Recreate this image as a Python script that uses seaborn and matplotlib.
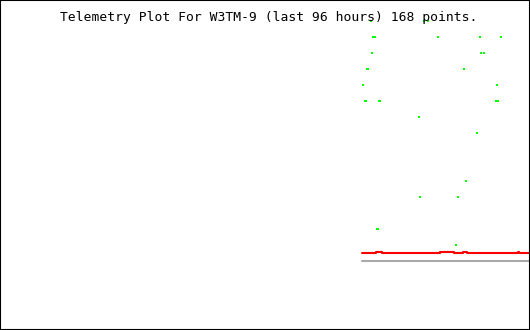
import matplotlib
matplotlib.use("Agg")
import matplotlib.pyplot as plt
import seaborn as sns
import pandas as pd
from matplotlib.patches import Rectangle

# ---- data (sample index 0..167, value levels) ----
title = "Telemetry Plot For W3TM-9 (last 96 hours) 168 points."

red_values = ([0.5] * 15 + [0.56] * 6 + [0.5] * 58 + [0.56] * 14 + [0.47] * 9
              + [0.56] * 4 + [0.5] * 51 + [0.56] * 1 + [0.5] * 10)
gray_values = [0.0] * 168

green_x = [9, 62, 66,
           11, 13, 76, 118, 139,
           10, 119, 122,
           5, 6, 102,
           1, 135,
           3, 4, 17, 18, 134, 136,
           57,
           115,
           104,
           58, 96,
           15, 16,
           94]
green_y = [15, 15, 15,
           14, 14, 14, 14, 14,
           13, 13, 13,
           12, 12, 12,
           11, 11,
           10, 10, 10, 10, 10, 10,
           9,
           8,
           5,
           4, 4,
           2, 2,
           1]

sns.set_style("white")
plt.rcParams['font.family'] = ['DejaVu Sans Mono', 'DejaVu Sans']

fig = plt.figure(figsize=(5.3, 3.3), dpi=100)
ax = fig.add_axes([0, 0, 1, 1])
ax.set_axis_off()

idx = list(range(len(red_values)))
df_red = pd.DataFrame({"i": idx, "v": red_values})
df_gray = pd.DataFrame({"i": list(range(len(gray_values))), "v": gray_values})
df_green = pd.DataFrame({"i": green_x, "v": green_y})

sns.lineplot(data=df_gray, x="i", y="v", ax=ax, color="#aaaaaa", lw=1.5,
             drawstyle="steps-mid", zorder=2)
sns.lineplot(data=df_red, x="i", y="v", ax=ax, color="#ff0000", lw=1.5,
             drawstyle="steps-mid", zorder=3)
rect_marker = [(-0.5, -1), (0.5, -1), (0.5, 1), (-0.5, 1)]
sns.scatterplot(data=df_green, x="i", y="v", ax=ax, color="#00ff00",
                marker=rect_marker, s=2.2, linewidth=0, zorder=5)

k = (529 - 361.5) / 167.0
ax.set_xlim(-361.5 / k, (530 - 361.5) / k)
ax.set_ylim((261 - 330) / 16.0, 261 / 16.0)

fig.text(268.5 / 530, 1 - 21.5 / 330, title, ha="center", va="baseline",
         fontsize=9.4, color="black", zorder=1)

fig.patches.append(Rectangle((0, 0), 1, 1, transform=fig.transFigure,
                             fill=False, edgecolor="black", lw=1.5))

fig.savefig("out.png", dpi=100)
